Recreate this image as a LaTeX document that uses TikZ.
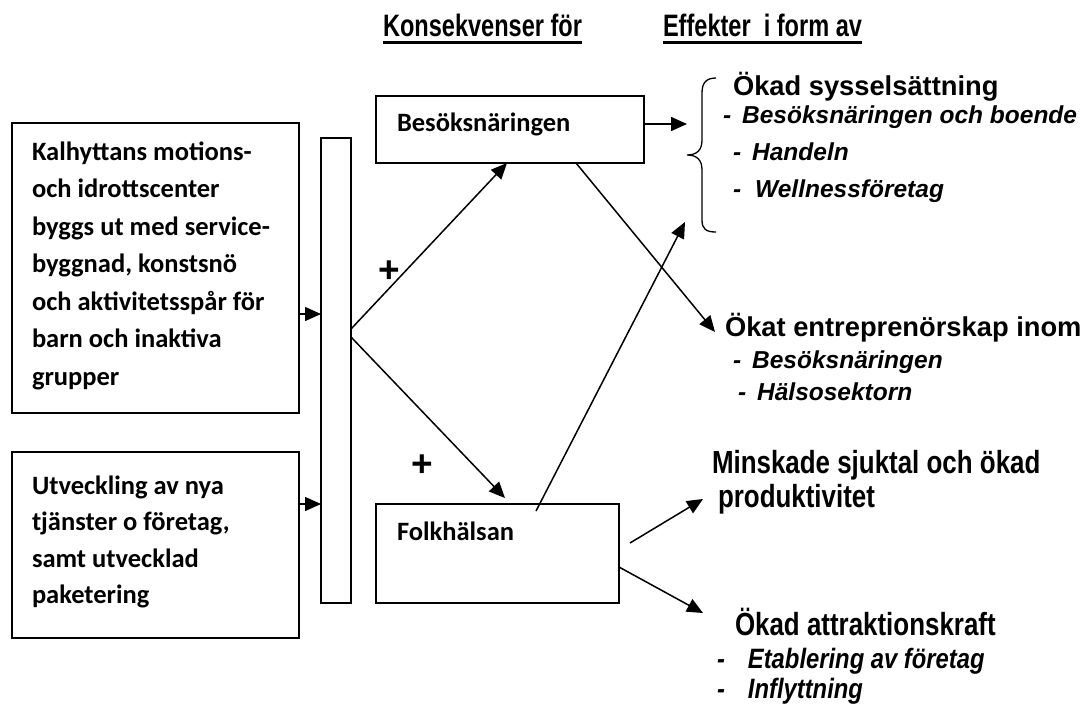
\documentclass[tikz,border=0pt]{standalone}
\usepackage{fontspec}
\setmainfont{Liberation Sans}
\newfontfamily\calfont{Carlito}
\newfontfamily\narrowfont{Liberation Sans}[FakeStretch=0.81]
\newfontfamily\narrowitfont{Liberation Sans}[FakeStretch=0.85]
\newfontfamily\titlefont{Liberation Sans}[FakeStretch=0.76]
\usetikzlibrary{arrows.meta}
\begin{document}
\begin{tikzpicture}[x=1pt,y=-1pt,
  box/.style={draw, line width=2pt, inner sep=0pt, outer sep=0pt, anchor=north west},
  txt/.style={inner sep=0pt, outer sep=0pt, anchor=base west},
  arr/.style={line width=1.5pt, -{Triangle[length=16pt,width=14pt]}},
  boxtext/.style={txt, font=\calfont\bfseries\fontsize{26.5}{37.5}\selectfont},
  head/.style={txt, font=\bfseries\fontsize{27.3}{27.3}\selectfont},
  item/.style={txt, font=\bfseries\itshape\fontsize{24.5}{24.5}\selectfont},
  nhead/.style={txt, font=\narrowfont\bfseries\fontsize{32}{32}\selectfont},
  nitem/.style={txt, font=\narrowitfont\bfseries\itshape\fontsize{28}{28}\selectfont},
  title/.style={txt, font=\titlefont\bfseries\fontsize{31}{31}\selectfont},
  plus/.style={inner sep=0pt, outer sep=0pt, anchor=base, font=\bfseries\fontsize{37}{37}\selectfont}
]
\useasboundingbox (0,0) rectangle (1086,704);

% titles
\node[title] (kons) at (383,36) {Konsekvenser för};
\node[title] (eff) at (663,36) {Effekter\ \ i form av};
\draw[line width=3pt] ([yshift=-6.5pt]kons.base west) -- ([yshift=-6.5pt]kons.base east);
\draw[line width=3pt] ([yshift=-6.5pt]eff.base west) -- ([yshift=-6.5pt]eff.base east);

% left boxes
\node[box, minimum width=287pt, minimum height=290pt] (kal) at (12,123) {};
\node[boxtext] (kaltext) at (32,160) {\parbox[t]{260pt}{\raggedright Kalhyttans motions-\\och idrottscenter\\byggs ut med service-\\byggnad, konstsnö\\och aktivitetsspår för\\barn och inaktiva\\grupper}};
\node[box, minimum width=287pt, minimum height=186pt] (utv) at (12,452) {};
\node[boxtext, font=\calfont\bfseries\fontsize{26.5}{36.5}\selectfont] (utvtext) at (32,494) {\parbox[t]{260pt}{\raggedright Utveckling av nya\\tjänster o företag,\\samt utvecklad\\paketering}};

% bar
\node[box, minimum width=30pt, minimum height=465pt] (bar) at (321,138) {};

% middle boxes
\node[box, minimum width=268pt, minimum height=67pt] (besok) at (376,96) {};
\node[boxtext] (besoktext) at (397,131) {Besöksnäringen};
\node[box, minimum width=243pt, minimum height=99pt] (folk) at (376,504) {};
\node[boxtext] (folktext) at (397,540) {Folkhälsan};

% plus signs
\node[plus] (plus1) at (389,282) {+};
\node[plus] (plus2) at (422,476) {+};

% brace
\draw[line width=1.3pt] (716,78) .. controls (706,78) and (702,83) .. (702,93) -- (702,140)
  .. controls (702,150) and (697,155) .. (687,155)
  .. controls (697,155) and (702,160) .. (702,170) -- (702,220)
  .. controls (702,229) and (706,232) .. (716,232);

% effects texts
\node[head] (syss) at (733,95) {Ökad sysselsättning};
\node[item] (syss1) at (723,123) {-\hspace{11pt}Besöksnäringen och boende};
\node[item] (syss2) at (733,160) {-\hspace{11pt}Handeln};
\node[item] (syss3) at (733,197) {-\hspace{14pt}Wellnessföretag};

\node[head] (entr) at (725,336) {Ökat entreprenörskap inom};
\node[item] (entr1) at (733,368) {-\hspace{11pt}Besöksnäringen};
\node[item] (entr2) at (738,400) {-\hspace{11pt}Hälsosektorn};

\node[nhead] (mins) at (712,473) {Minskade sjuktal och ökad};
\node[nhead] (prod) at (718,507) {produktivitet};

\node[nhead] (attr) at (735,635) {Ökad attraktionskraft};
\node[nitem] (attr1) at (717,668) {-\hspace{23pt}Etablering av företag};
\node[nitem] (attr2) at (717,698) {-\hspace{23pt}Inflyttning};

% free-end coordinates
\coordinate (bracetip) at (687,124);
\coordinate (entrtip) at (715,332);
\coordinate (folktip) at (505,498);
\coordinate (folkin) at (536,511);
\coordinate (bracebottom) at (685,222);
\coordinate (minsstart) at (630,543);
\coordinate (minstip) at (703,499);
\coordinate (attrtip) at (703,613);

% connectors
\draw[arr] (kal.east |- 0,314) -- (bar.west |- 0,314);
\draw[arr] (utv.east |- 0,504) -- (bar.west |- 0,504);
\draw[arr] (bar.east |- 0,329) -- (besok.south -| 507,0);
\draw[arr] (bar.east |- 0,337) -- (folktip);
\draw[arr] (besok.east |- 0,124) -- (bracetip);
\draw[arr] (besok.south -| 576,0) -- (entrtip);
\draw[arr] (folkin) -- (bracebottom);
\draw[arr] (minsstart) -- (minstip);
\draw[arr] (folk.east |- 0,567) -- (attrtip);
\end{tikzpicture}
\end{document}
